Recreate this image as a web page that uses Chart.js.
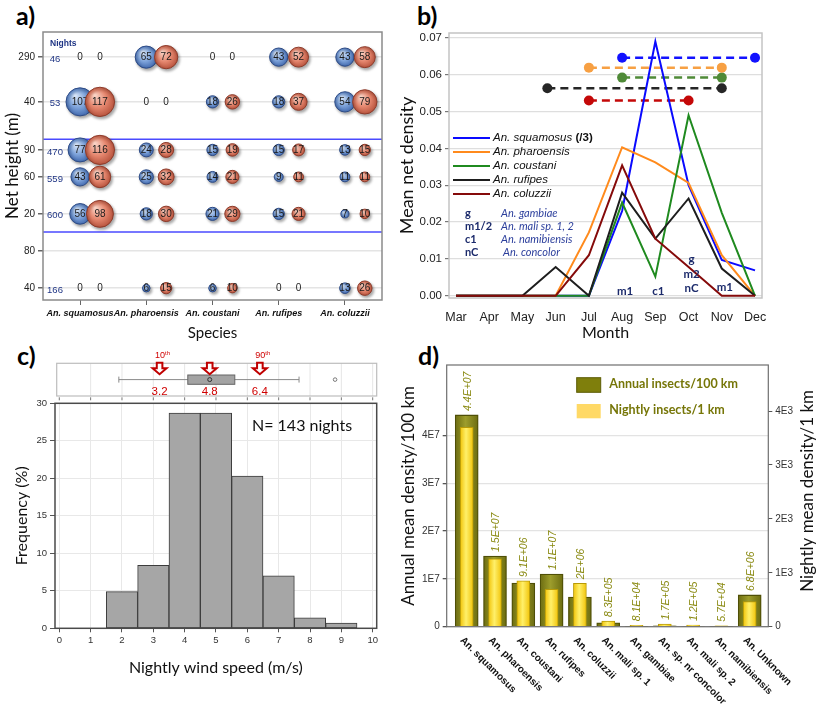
<!DOCTYPE html>
<html><head><meta charset="utf-8">
<script src="https://cdn.jsdelivr.net/npm/chart.js@4.4.0/dist/chart.umd.min.js"></script>
<style>
body{margin:0;background:#fff;width:821px;height:704px;position:relative;overflow:hidden}
canvas{position:absolute}
.lab{position:absolute;font:bold 25px Lato,"Open Sans",sans-serif;color:#000;line-height:30px}
</style></head><body>
<div class="lab" style="left:16px;top:0px">a)</div>
<div class="lab" style="left:417px;top:0px">b)</div>
<div class="lab" style="left:17px;top:340px">c)</div>
<div class="lab" style="left:418px;top:340px">d)</div>
<canvas id="ca" width="410" height="345" style="left:0;top:0"></canvas>
<canvas id="cc" width="410" height="364" style="left:0;top:340px"></canvas>
<canvas id="cb" width="425" height="345" style="left:396px;top:0"></canvas>
<canvas id="cd" width="425" height="364" style="left:396px;top:340px"></canvas>
<script>
// ================= DATA =================
// Panel a
const speciesA = ['An. squamosus','An. pharoensis','An. coustani','An. rufipes','An. coluzzii'];
const heightLabels = ['290','40','90','60','20','80','40'];
const rowPos = [6.57, 5.36, 4.06, 3.33, 2.33, 1.33, 0.32];   // axis position of each height row
const separatorPos = [4.35, 1.84];
const nightsPerRow = [46, 53, 470, 559, 600, null, 166];
const countsBlue = [
  [0, 65, 0, 43, 43],
  [107, 0, 18, 18, 54],
  [77, 24, 15, 15, 13],
  [43, 25, 14, 9, 11],
  [56, 18, 21, 15, 7],
  [null, null, null, null, null],
  [0, 6, 6, 0, 13]
];
const countsRed = [
  [0, 72, 0, 52, 58],
  [117, 0, 26, 37, 79],
  [116, 28, 19, 17, 15],
  [61, 32, 21, 11, 11],
  [98, 30, 29, 21, 10],
  [null, null, null, null, null],
  [0, 15, 10, 0, 26]
];
// Panel b
const months = ['Mar','Apr','May','Jun','Jul','Aug','Sep','Oct','Nov','Dec'];
const seriesNames = ['An. squamosus','An. pharoensis','An. coustani','An. rufipes','An. coluzzii'];
const squamosusDiv3 = [0, 0, 0, 0, 0, 0.0230, 0.0690, 0.0300, 0.0097, 0.0069];
const pharoensis    = [0, 0, 0, 0, 0.0172, 0.0403, 0.0362, 0.0306, 0.0110, 0];
const coustani      = [0, 0, 0, 0, 0, 0.0253, 0.0052, 0.0490, 0.0225, 0];
const rufipes       = [0, 0, 0, 0.0078, 0, 0.0280, 0.0155, 0.0264, 0.0074, 0];
const coluzzii      = [0, 0, 0, 0, 0.0110, 0.0354, 0.0155, 0.0078, 0, 0];
const periodStart = [5, 4, 5, 2.75, 4];
const periodEnd   = [9, 8, 8, 8, 7];
const periodLevel = [0.0646, 0.0619, 0.0592, 0.0563, 0.0530];
const yTicksB = [0, 0.01, 0.02, 0.03, 0.04, 0.05, 0.06, 0.07];
const abbrCodes = ['g', 'm1/2', 'c1', 'nC'];
const abbrNames = ['An. gambiae', 'An. mali sp. 1, 2', 'An. namibiensis', 'An. concolor'];
const noteMonths = [5, 6, 7, 8];
const noteTexts = [['m1'], ['c1'], ['g', 'm2', 'nC'], ['m1']];
const noteLevel = [0.0012, 0.0012, 0.0019, 0.0024];
// Panel c
const windBins = [1, 2, 3, 4, 5, 6, 7, 8, 9];
const windFreq = [0, 4.9, 8.4, 28.7, 28.7, 20.3, 7.0, 1.4, 0.7];
const windBox = [1.9, 4.1, 4.8, 5.6, 7.65];       // whisker low, q1, median, q3, whisker high
const windOutliers = [8.8];
const windPctValues = [3.2, 4.8, 6.4];
const windPctNames = ['10', '', '90'];
const nightsCount = 143;
// Panel d
const speciesD = ['An. squamosus','An. pharoensis','An. coustani','An. rufipes','An. coluzzii','An. mali sp. 1','An. gambiae','An. sp. nr concolor','An. mali sp. 2','An. namibiensis','An. Unknown'];
const annualPer100km = [4.43e7, 1.48e7, 9.1e6, 1.1e7, 6.2e6, 8.3e5, 8.1e4, 1.7e5, 1.2e5, 5.7e4, 6.65e6];
const nightlyPer1km  = [3700, 1260, 850, 695, 805, 105, 26, 50, 32, 18, 465];
const annualText = ['4.4E+07','1.5E+07','9.1E+06','1.1E+07','2E+06','8.3E+05','8.1E+04','1.7E+05','1.2E+05','5.7E+04','6.8E+06'];
const leftTicksD = [0, 1e7, 2e7, 3e7, 4e7];
const leftTickText = ['0', '1E7', '2E7', '3E7', '4E7'];
const rightTicksD = [0, 1000, 2000, 3000, 4000];
const rightTickText = ['0', '1E3', '2E3', '3E3', '4E3'];

// ================= STYLE =================
const SANS = '"Liberation Sans", Arial, sans-serif';
const TITLE = 'Lato, "Open Sans", sans-serif';
Chart.defaults.font.family = SANS;
Chart.defaults.color = '#222';
Chart.defaults.animation = false;
Chart.defaults.events = [];
Chart.defaults.plugins.legend.display = false;
Chart.defaults.plugins.tooltip.enabled = false;

const setTicks = vals => axis => { axis.ticks = vals.map(v => ({value: v})); };
const ok = (...a) => a.every(Number.isFinite);

// ================= PANEL A =================
try { (function(){
  const pairShift = 0.3;
  const rad = v => v > 0 ? 1.3 * Math.sqrt(v) + 0.6 : 0;
  const blue = [], red = [];
  heightLabels.forEach((h, r) => {
    speciesA.forEach((s, i) => {
      if (countsBlue[r][i] !== null) blue.push({x: i, y: rowPos[r], v: countsBlue[r][i], r: rad(countsBlue[r][i])});
      if (countsRed[r][i] !== null) red.push({x: i + pairShift, y: rowPos[r], v: countsRed[r][i], r: rad(countsRed[r][i])});
    });
  });
  function ball(c, light, mid, dark) {
    if (!c.raw) return mid;
    const ch = c.chart;
    if (!ch.scales.x || !ch.scales.y) return mid;
    const x = ch.scales.x.getPixelForValue(c.raw.x), y = ch.scales.y.getPixelForValue(c.raw.y);
    const r = Math.max(c.raw.r, 1);
    if (!ok(x, y, r)) return mid;
    const g = ch.ctx.createRadialGradient(x - r * 0.35, y - r * 0.45, r * 0.05, x, y, r * 1.05);
    g.addColorStop(0, light); g.addColorStop(0.55, mid); g.addColorStop(1, dark);
    return g;
  }
  const plug = {
    id: 'pa',
    beforeDatasetDraw(ch) {
      const ctx = ch.ctx; ctx.save();
      ctx.shadowColor = 'rgba(0,0,0,0.35)'; ctx.shadowBlur = 3; ctx.shadowOffsetX = 1.5; ctx.shadowOffsetY = 2;
    },
    afterDatasetDraw(ch, args) {
      const ctx = ch.ctx; ctx.restore();
      const ds = ch.data.datasets[args.index];
      ctx.save();
      ctx.font = '10px ' + SANS; ctx.fillStyle = '#1b1b1b'; ctx.textAlign = 'center'; ctx.textBaseline = 'middle';
      args.meta.data.forEach((el, i) => ctx.fillText(String(ds.data[i].v), el.x, el.y + 0.5));
      ctx.restore();
    },
    beforeDatasetsDraw(ch) {
      const ctx = ch.ctx, a = ch.chartArea, ys = ch.scales.y;
      ctx.save();
      ctx.strokeStyle = '#4a4aff'; ctx.lineWidth = 1.5;
      separatorPos.forEach(p => { const y = ys.getPixelForValue(p); ctx.beginPath(); ctx.moveTo(a.left, y); ctx.lineTo(a.right, y); ctx.stroke(); });
      ctx.restore();
    },
    afterDraw(ch) {
      const ctx = ch.ctx, a = ch.chartArea, ys = ch.scales.y;
      ctx.save();
      ctx.strokeStyle = '#8a8a8a'; ctx.lineWidth = 1.5;
      ctx.strokeRect(a.left, a.top, a.right - a.left, a.bottom - a.top);
      ctx.fillStyle = '#1f3585';
      ctx.font = 'bold 8.5px ' + SANS; ctx.textAlign = 'left'; ctx.textBaseline = 'middle';
      ctx.fillText('Nights', a.left + 7, a.top + 12);
      ctx.font = '9.5px ' + SANS; ctx.textAlign = 'center';
      nightsPerRow.forEach((n, r) => { if (n !== null) ctx.fillText(String(n), a.left + 12, ys.getPixelForValue(rowPos[r]) + 2); });
      ctx.restore();
    }
  };
  new Chart(document.getElementById('ca'), {
    type: 'bubble',
    data: { datasets: [
      { data: blue, order: 2, borderColor: '#2d4b86', borderWidth: 1,
        backgroundColor: c => ball(c, '#d6e4f7', '#7ea3da', '#3f67ad') },
      { data: red, order: 1, borderColor: '#8e3b2a', borderWidth: 1,
        backgroundColor: c => ball(c, '#f9d2c4', '#e5876f', '#b5503a') }
    ]},
    options: {
      responsive: false,
      layout: { padding: { left: 0, right: 28, top: 32, bottom: 0 } },
      scales: {
        x: { type: 'linear', offset: false, min: -0.56, max: 4.56, afterBuildTicks: setTicks(speciesA.map((s, i) => i)),
             ticks: { callback: (v, i) => speciesA[i], font: { size: 9, style: 'italic', weight: 'bold' }, color: '#111', padding: 3, maxRotation: 0, autoSkip: false },
             grid: { drawOnChartArea: false, tickLength: 5, color: '#666' }, border: { display: false },
             title: { display: true, text: 'Species', font: { family: TITLE, size: 15 }, color: '#111', padding: { top: 0, bottom: 3 } },
             afterFit: s => { s.height = 45; } },
        y: { type: 'linear', min: 0, max: 7.25, afterBuildTicks: setTicks(rowPos),
             ticks: { callback: (v, i) => heightLabels[i], font: { size: 10 }, color: '#222', padding: 3, autoSkip: false },
             grid: { color: '#e4e4e4', lineWidth: 1.5, tickLength: 5, tickColor: '#666' }, border: { display: false },
             title: { display: true, text: 'Net height (m)', font: { family: TITLE, size: 17 }, color: '#111', padding: { top: 2, bottom: 0 } },
             afterFit: s => { s.width = 43; } }
      }
    },
    plugins: [plug]
  });
})(); } catch (e) { console.error(e); }

// ================= PANEL B =================
try { (function(){
  const seriesValues = [squamosusDiv3, pharoensis, coustani, rufipes, coluzzii];
  const lineColors = ['#0a0aff', '#ff8a1c', '#1f8a1f', '#1e1e1e', '#850a0a'];
  const dotColors = ['#1212ff', '#f7a043', '#4f8a37', '#262626', '#c40808'];
  const datasets = [];
  seriesValues.forEach((vals, k) => {
    datasets.push({ label: seriesNames[k], data: vals.map((v, i) => ({x: i, y: v})), borderColor: lineColors[k], borderWidth: 2,
      pointRadius: 0, order: 10 - k, fill: false, tension: 0 });
  });
  periodStart.forEach((s, k) => {
    datasets.push({ data: [{x: s, y: periodLevel[k]}, {x: periodEnd[k], y: periodLevel[k]}], borderColor: dotColors[k], borderWidth: 2.5,
      borderDash: [8, 5], pointRadius: 5, pointBackgroundColor: dotColors[k], pointBorderWidth: 0, order: 20 });
  });
  const plug = {
    id: 'pb',
    afterDraw(ch) {
      const ctx = ch.ctx, a = ch.chartArea, xs = ch.scales.x, ys = ch.scales.y;
      ctx.save();
      ctx.strokeStyle = '#c4c4c4'; ctx.lineWidth = 1.5;
      ctx.strokeRect(a.left, a.top, a.right - a.left, a.bottom - a.top);
      const lx = a.left + 4, ly = a.top + 105;
      ctx.textBaseline = 'middle'; ctx.textAlign = 'left';
      seriesNames.forEach((n, k) => {
        const y = ly + k * 14;
        ctx.strokeStyle = lineColors[k]; ctx.lineWidth = 2;
        ctx.beginPath(); ctx.moveTo(lx, y); ctx.lineTo(lx + 37, y); ctx.stroke();
        ctx.fillStyle = '#111'; ctx.font = 'italic 11.5px ' + SANS;
        ctx.fillText(n, lx + 40, y);
        if (k === 0) { const w = ctx.measureText(n + ' ').width; ctx.font = 'bold 11.5px ' + SANS; ctx.fillText('(/3)', lx + 40 + w, y); }
      });
      abbrCodes.forEach((c, k) => {
        const y = a.top + 180 + k * 13.3;
        ctx.fillStyle = '#1b2a6b'; ctx.font = 'bold 11px ' + TITLE; ctx.fillText(c, a.left + 16, y);
        ctx.fillStyle = '#2c3f9c'; ctx.font = 'italic 11px ' + TITLE; ctx.fillText(abbrNames[k], a.left + (k === 3 ? 54 : 52), y);
      });
      ctx.fillStyle = '#1b2a6b'; ctx.font = 'bold 11.5px ' + TITLE; ctx.textAlign = 'center';
      noteMonths.forEach((m, k) => {
        const x = xs.getPixelForValue(m) + 3, yb = ys.getPixelForValue(noteLevel[k]);
        const t = noteTexts[k];
        t.forEach((s, j) => ctx.fillText(s, x, yb - (t.length - 1 - j) * 14.5));
      });
      ctx.restore();
    }
  };
  new Chart(document.getElementById('cb'), {
    type: 'line',
    data: { datasets },
    options: {
      responsive: false,
      layout: { padding: { left: 0, right: 59, top: 33, bottom: 0 } },
      scales: {
        x: { type: 'linear', offset: false, min: -0.21, max: 9.21, afterBuildTicks: setTicks(months.map((m, i) => i)),
             ticks: { callback: (v, i) => months[i], font: { size: 12.5 }, color: '#222', padding: 4, maxRotation: 0, autoSkip: false },
             grid: { display: false }, border: { display: false },
             title: { display: true, text: 'Month', font: { family: TITLE, size: 16 }, color: '#111', padding: { top: 0, bottom: 3 } },
             afterFit: s => { s.height = 47; } },
        y: { type: 'linear', min: -0.0006, max: 0.0713, afterBuildTicks: setTicks(yTicksB),
             ticks: { callback: v => v.toFixed(2), font: { size: 11.5 }, color: '#222', padding: 3 },
             grid: { color: '#dedede', lineWidth: 1.2, tickLength: 4, tickColor: '#777' }, border: { display: false },
             title: { display: true, text: 'Mean net density', font: { family: TITLE, size: 18 }, color: '#111', padding: { top: 0, bottom: 0 } },
             afterFit: s => { s.width = 53; } }
      }
    },
    plugins: [plug]
  });
})(); } catch (e) { console.error(e); }

// ================= PANEL C =================
try { (function(){
  function downArrow(ctx, x, yTop, yBot) {
    const sw = 2.8, hw = 7, hh = 6;
    ctx.beginPath();
    ctx.moveTo(x - sw, yTop); ctx.lineTo(x + sw, yTop); ctx.lineTo(x + sw, yBot - hh); ctx.lineTo(x + hw, yBot - hh);
    ctx.lineTo(x, yBot); ctx.lineTo(x - hw, yBot - hh); ctx.lineTo(x - sw, yBot - hh); ctx.closePath();
    ctx.fillStyle = '#fff'; ctx.fill(); ctx.strokeStyle = '#c00000'; ctx.lineWidth = 2; ctx.stroke();
  }
  const plug = {
    id: 'pc',
    afterDraw(ch) {
      const ctx = ch.ctx, a = ch.chartArea, xs = ch.scales.x;
      const px = v => xs.getPixelForValue(v);
      ctx.save();
      ctx.strokeStyle = '#4a4a4a'; ctx.lineWidth = 1.5;
      ctx.strokeRect(a.left, a.top, a.right - a.left, a.bottom - a.top);
      const sTop = a.top - 40, sBot = a.top - 7.3, sL = a.left + 1.7;
      ctx.strokeStyle = '#e6e6e6'; ctx.lineWidth = 1;
      for (let v = 1; v <= 10; v++) { const x = px(v); ctx.beginPath(); ctx.moveTo(x, sTop); ctx.lineTo(x, sBot); ctx.stroke(); }
      ctx.strokeStyle = '#bdbdbd'; ctx.lineWidth = 1.2;
      ctx.strokeRect(sL, sTop, a.right - sL, sBot - sTop);
      ctx.strokeStyle = '#777'; ctx.lineWidth = 1;
      for (let v = 0; v <= 10; v++) { const x = px(v); ctx.beginPath(); ctx.moveTo(x, a.top - 6); ctx.lineTo(x, a.top - 3); ctx.stroke(); }
      const wy = a.top - 23.7, bT = a.top - 28.3, bB = a.top - 19;
      ctx.strokeStyle = '#8a8a8a'; ctx.lineWidth = 1;
      ctx.beginPath(); ctx.moveTo(px(windBox[0]), wy); ctx.lineTo(px(windBox[4]), wy); ctx.stroke();
      [windBox[0], windBox[4]].forEach(v => { ctx.beginPath(); ctx.moveTo(px(v), wy - 3); ctx.lineTo(px(v), wy + 3); ctx.stroke(); });
      ctx.fillStyle = '#a3a3a3'; ctx.strokeStyle = '#666'; ctx.lineWidth = 1;
      ctx.fillRect(px(windBox[1]), bT, px(windBox[3]) - px(windBox[1]), bB - bT);
      ctx.strokeRect(px(windBox[1]), bT, px(windBox[3]) - px(windBox[1]), bB - bT);
      ctx.strokeStyle = '#333';
      ctx.beginPath(); ctx.arc(px(windBox[2]), wy, 2, 0, Math.PI * 2); ctx.stroke();
      ctx.strokeStyle = '#777';
      windOutliers.forEach(o => { ctx.beginPath(); ctx.arc(px(o), wy, 1.8, 0, Math.PI * 2); ctx.stroke(); });
      windPctValues.forEach((v, k) => {
        const x = px(v);
        downArrow(ctx, x, a.top - 40.5, a.top - 29);
        ctx.fillStyle = '#d00000'; ctx.textAlign = 'center'; ctx.textBaseline = 'middle';
        ctx.font = '11.5px ' + SANS; ctx.fillText(v.toFixed(1), x, a.top - 11.6);
        if (windPctNames[k]) {
          ctx.font = '9px ' + SANS; const w1 = ctx.measureText(windPctNames[k]).width;
          ctx.font = '6px ' + SANS; const w2 = ctx.measureText('th').width;
          const x0 = x + 3 - (w1 + w2) / 2;
          ctx.textAlign = 'left';
          ctx.font = '9px ' + SANS; ctx.fillText(windPctNames[k], x0, a.top - 47.5);
          ctx.font = '6px ' + SANS; ctx.fillText('th', x0 + w1, a.top - 50);
        }
      });
      ctx.fillStyle = '#111'; ctx.font = '16px ' + TITLE; ctx.textAlign = 'left'; ctx.textBaseline = 'middle';
      ctx.fillText('N= ' + nightsCount + ' nights', a.left + 197, a.top + 23);
      ctx.restore();
    }
  };
  new Chart(document.getElementById('cc'), {
    type: 'bar',
    data: { datasets: [{ data: windBins.map((b, i) => ({x: b, y: windFreq[i]})), backgroundColor: '#a6a6a6', borderColor: '#3c3c3c',
      borderWidth: 1, barPercentage: 1, categoryPercentage: 1, borderSkipped: false }] },
    options: {
      responsive: false,
      layout: { padding: { left: 0, right: 33.3, top: 63.3, bottom: 0 } },
      scales: {
        x: { type: 'linear', offset: false, min: -0.137, max: 10.128, afterBuildTicks: setTicks([0,1,2,3,4,5,6,7,8,9,10]),
             ticks: { callback: v => String(v), font: { size: 9.5 }, color: '#333', padding: 2, maxRotation: 0 },
             grid: { offset: false, color: '#e8e8e8', tickLength: 4, tickColor: '#555' }, border: { display: false },
             title: { display: true, text: 'Nightly wind speed (m/s)', font: { family: TITLE, size: 16 }, color: '#111', padding: { top: 0, bottom: 27 } },
             afterFit: s => { s.height = 75.7; } },
        y: { type: 'linear', min: 0, max: 30, afterBuildTicks: setTicks([0,5,10,15,20,25,30]),
             ticks: { callback: v => String(v), font: { size: 9.5 }, color: '#333', padding: 3 },
             grid: { color: '#e8e8e8', tickLength: 5, tickColor: '#555' }, border: { display: false },
             title: { display: true, text: 'Frequency (%)', font: { family: TITLE, size: 16 }, color: '#111', padding: { top: 12, bottom: 0 } },
             afterFit: s => { s.width = 55; } }
      }
    },
    plugins: [plug]
  });
})(); } catch (e) { console.error(e); }

// ================= PANEL D =================
try { (function(){
  const wA = 23, wN = 13;
  function cyl(c, w, edge, mid) {
    if (!c.raw) return mid;
    const ch = c.chart;
    if (!ch.scales.x) return mid;
    const x = ch.scales.x.getPixelForValue(c.raw.x);
    if (!ok(x)) return mid;
    const g = ch.ctx.createLinearGradient(x - w / 2, 0, x + w / 2, 0);
    g.addColorStop(0, edge); g.addColorStop(0.45, mid); g.addColorStop(1, edge);
    return g;
  }
  const plug = {
    id: 'pd',
    afterDatasetsDraw(ch) {
      const ctx = ch.ctx, xs = ch.scales.x, y = ch.scales.y, y2 = ch.scales.y2;
      ctx.save();
      ctx.font = 'italic 10.5px ' + SANS; ctx.fillStyle = '#8a8a12';
      annualText.forEach((t, i) => {
        const px = xs.getPixelForValue(i);
        const top = Math.min(y.getPixelForValue(annualPer100km[i]), y2.getPixelForValue(nightlyPer1km[i]));
        ctx.save(); ctx.translate(px + 1, top - 4); ctx.rotate(-Math.PI / 2);
        ctx.textAlign = 'left'; ctx.textBaseline = 'middle'; ctx.fillText(t, 0, 0); ctx.restore();
      });
      ctx.restore();
    },
    afterDraw(ch) {
      const ctx = ch.ctx, a = ch.chartArea, xs = ch.scales.x;
      ctx.save();
      ctx.strokeStyle = '#6e6e6e'; ctx.lineWidth = 1.2;
      ctx.strokeRect(a.left, a.top, a.right - a.left, a.bottom - a.top);
      ctx.fillStyle = '#111'; ctx.font = 'bold 10px ' + SANS;
      speciesD.forEach((s, i) => {
        const px = xs.getPixelForValue(i);
        ctx.save(); ctx.translate(px - 5, a.bottom + 12); ctx.rotate(Math.PI / 4);
        ctx.textAlign = 'left'; ctx.textBaseline = 'middle'; ctx.fillText(s, 0, 0); ctx.restore();
      });
      const bx = a.left + 130;
      ctx.fillStyle = '#7f7f0c'; ctx.fillRect(bx, a.top + 12.7, 24, 14.6);
      ctx.strokeStyle = '#5d5d05'; ctx.lineWidth = 1; ctx.strokeRect(bx, a.top + 12.7, 24, 14.6);
      ctx.fillStyle = '#ffd966'; ctx.fillRect(bx, a.top + 39, 24, 14.3);
      ctx.fillStyle = '#767608'; ctx.font = 'bold 12.5px ' + TITLE; ctx.textAlign = 'left'; ctx.textBaseline = 'middle';
      ctx.fillText('Annual insects/100 km', bx + 32.6, a.top + 18.5);
      ctx.fillText('Nightly insects/1 km', bx + 32.6, a.top + 44.5);
      ctx.save(); ctx.translate(412, (a.top + a.bottom) / 2 - 5); ctx.rotate(-Math.PI / 2);
      ctx.fillStyle = '#111'; ctx.font = '17px ' + TITLE; ctx.textAlign = 'center'; ctx.textBaseline = 'middle';
      ctx.fillText('Nightly mean density/1 km', 0, 0); ctx.restore();
      ctx.restore();
    }
  };
  new Chart(document.getElementById('cd'), {
    type: 'bar',
    data: { datasets: [
      { data: annualPer100km.map((v, i) => ({x: i, y: v})), yAxisID: 'y', order: 2, barThickness: wA, grouped: false,
        backgroundColor: c => cyl(c, wA, '#6c6c10', '#9d9d2c'), borderColor: '#4f4f06', borderWidth: 1.3, borderSkipped: 'bottom' },
      { data: nightlyPer1km.map((v, i) => ({x: i, y: v})), yAxisID: 'y2', order: 1, barThickness: wN, grouped: false,
        backgroundColor: c => cyl(c, wN, '#f1c40a', '#fff06a'), borderColor: '#b89a06', borderWidth: 1, borderSkipped: 'bottom' }
    ]},
    options: {
      responsive: false,
      layout: { padding: { left: 0, right: 0, top: 25, bottom: 0 } },
      scales: {
        x: { type: 'linear', offset: false, min: -0.707, max: 10.657, ticks: { display: false }, grid: { display: false, offset: false }, border: { display: false },
             afterFit: s => { s.height = 77.3; } },
        y: { type: 'linear', position: 'left', min: 0, max: 5.475e7, afterBuildTicks: setTicks(leftTicksD),
             ticks: { callback: (v, i) => leftTickText[i], font: { size: 10 }, color: '#333', padding: 3 },
             grid: { color: '#e3e3e3', lineWidth: 1.3, tickLength: 4, tickColor: '#555' }, border: { display: false },
             title: { display: true, text: 'Annual mean density/100 km', font: { family: TITLE, size: 17 }, color: '#111', padding: { top: 2, bottom: 0 } },
             afterFit: s => { s.width = 50.7; } },
        y2: { type: 'linear', position: 'right', min: 0, max: 4855, afterBuildTicks: setTicks(rightTicksD),
             ticks: { callback: (v, i) => rightTickText[i], font: { size: 10 }, color: '#333', padding: 3 },
             grid: { drawOnChartArea: false, tickLength: 4, tickColor: '#555' }, border: { display: false },
             afterFit: s => { s.width = 52.7; } }
      }
    },
    plugins: [plug]
  });
})(); } catch (e) { console.error(e); }
</script>
</body></html>
